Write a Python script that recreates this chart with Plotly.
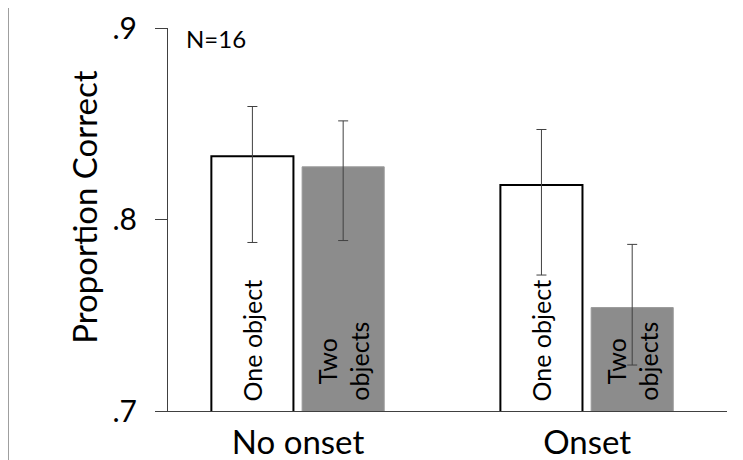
import plotly.graph_objects as go

conditions = ["No onset", "Onset"]
one_object = [0.833, 0.818]
two_objects = [0.8275, 0.754]
one_err_plus = [0.026, 0.029]
one_err_minus = [0.045, 0.047]
two_err_plus = [0.024, 0.033]
two_err_minus = [0.0385, 0.030]
y_ticks = [0.7, 0.8, 0.9]
y_tick_labels = [".7", ".8", ".9"]
bar_labels = ["One object", "Two<br>objects"]

FONT = "Lato"
xpos = list(range(len(conditions)))
BAR_W = 0.284
OFFSETS = [-0.30, 0.014]

err_style = dict(type="data", symmetric=False, color="#404040", thickness=1, width=5)

fig = go.Figure()
fig.add_trace(go.Bar(
    x=xpos, y=one_object, width=BAR_W, offset=OFFSETS[0],
    marker=dict(color="white", line=dict(color="black", width=2)),
    error_y=dict(array=one_err_plus, arrayminus=one_err_minus, **err_style),
    showlegend=False,
))
fig.add_trace(go.Bar(
    x=xpos, y=two_objects, width=BAR_W, offset=OFFSETS[1],
    marker=dict(color="#8c8c8c", line=dict(color="#9a9a9a", width=1)),
    error_y=dict(array=two_err_plus, arrayminus=two_err_minus, **err_style),
    showlegend=False,
))

annotations = []
for xp in xpos:
    for off, lab in zip(OFFSETS, bar_labels):
        annotations.append(dict(
            text=lab, x=xp + off + BAR_W / 2, y=y_ticks[0], xref="x", yref="y",
            xanchor="center", yanchor="bottom", yshift=8, textangle=-90, align="center",
            showarrow=False, font=dict(size=25, family=FONT, color="black"),
        ))
annotations.append(dict(
    text="N=16", xref="paper", yref="paper", x=0.029, y=0.972,
    xanchor="left", yanchor="middle", showarrow=False,
    font=dict(size=24, family=FONT, color="black"),
))
annotations.append(dict(
    text="Proportion Correct", xref="paper", yref="paper", x=-84 / 559, y=0.533,
    xanchor="center", yanchor="middle", textangle=-90, showarrow=False,
    font=dict(size=33, family=FONT, color="black"),
))

fig.update_layout(
    width=735, height=452,
    margin=dict(l=160, r=16, t=20, b=49, autoexpand=False),
    plot_bgcolor="white", paper_bgcolor="white",
    barmode="overlay",
    font=dict(family=FONT, color="black"),
    xaxis=dict(
        range=[-0.45, 1.484], tickvals=xpos, ticktext=conditions, automargin=False,
        showgrid=False, zeroline=False, showline=True, linecolor="#404040", linewidth=1,
        ticks="", tickfont=dict(size=33, family=FONT), ticklabelstandoff=2,
    ),
    yaxis=dict(
        range=[0.7, 0.9], tickvals=y_ticks, ticktext=y_tick_labels, automargin=False,
        showgrid=False, zeroline=False, showline=True, linecolor="#404040", linewidth=1,
        ticks="outside", ticklen=12, tickcolor="#404040", tickwidth=1,
        ticklabelstandoff=12,
        tickfont=dict(size=30, family=FONT),
    ),
    annotations=annotations,
    shapes=[dict(
        type="line", xref="paper", yref="paper",
        x0=-160 / 559, x1=-160 / 559, y0=-49 / 383, y1=1 + 20 / 383,
        line=dict(color="#404040", width=1),
    )],
)

fig.write_html("out.html")
